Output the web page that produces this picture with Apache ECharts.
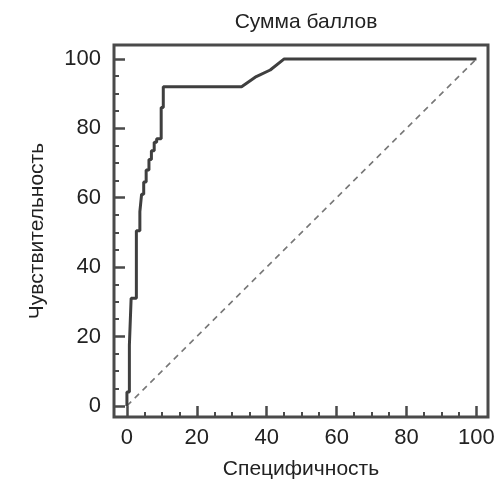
<!DOCTYPE html>
<html>
<head>
<meta charset="utf-8">
<script src="https://cdn.jsdelivr.net/npm/echarts@6/dist/echarts.min.js"></script>
<style>html,body{margin:0;padding:0;background:#fff}#c{width:498px;height:484px}</style>
</head>
<body>
<div id="c"></div>
<script>
var titleText = 'Сумма баллов';
var xName = 'Специфичность';
var yName = 'Чувствительность';
var majorTicks = [0, 20, 40, 60, 80, 100];
var minorTicks = [5, 10, 15, 25, 30, 35, 45, 50, 55, 65, 70, 75, 85, 90, 95];
// ROC curve points
var spec = [0, 0, 0.7, 0.7, 1.2, 1.2, 2.7, 2.7, 3.7, 3.7, 4.2, 4.2, 4.8, 4.8, 5.5, 5.5, 6.3, 6.3, 7.0, 7.0, 7.8, 7.8, 8.5, 8.5, 9.8, 9.8, 10.4, 10.4, 32.8, 37, 41, 45, 100];
var sens = [0, 4, 4, 17.5, 17.5, 31, 31, 50.5, 50.5, 56, 56, 61, 61, 64.5, 64.5, 68, 68, 71, 71, 73.5, 73.5, 76, 76, 77, 77, 86, 86, 92, 92, 94.9, 96.8, 100, 100];
var diagX = [0, 100];
var diagY = [0, 100];

var curve = spec.map(function (v, i) { return [v, sens[i]]; });
var diag = diagX.map(function (v, i) { return [v, diagY[i]]; });

var font = 'Liberation Sans';
var txt = '#222';
var frame = '#4a4a4a';
var xMin = -3.7, xMax = 103.3, yMin = -3.2, yMax = 104;

var chart = echarts.init(document.getElementById('c'), null, {renderer: 'canvas'});
chart.setOption({
  animation: false,
  backgroundColor: '#fff',
  title: {
    text: titleText, left: 301, top: 7, textAlign: 'center',
    textStyle: {fontFamily: font, fontSize: 21, fontWeight: 'normal', color: txt}
  },
  grid: {left: 114, right: 10, top: 45, bottom: 67, outerBoundsMode: 'none', containLabel: false,
    show: true, borderColor: frame, borderWidth: 3, backgroundColor: 'transparent'},
  xAxis: [{
    type: 'value', min: xMin, max: xMax, position: 'bottom',
    name: xName, nameLocation: 'middle', nameGap: 42,
    nameTextStyle: {fontFamily: font, fontSize: 21, color: txt},
    axisLine: {show: false, onZero: false},
    splitLine: {show: false},
    axisTick: {show: true, inside: true, length: 11, customValues: majorTicks, lineStyle: {color: frame, width: 2.5}},
    axisLabel: {customValues: majorTicks, margin: 10, fontFamily: font, fontSize: 22, color: txt}
  }, {
    type: 'value', min: xMin, max: xMax, position: 'bottom',
    axisLine: {show: false, onZero: false}, splitLine: {show: false},
    axisTick: {show: true, inside: true, length: 5, customValues: minorTicks, lineStyle: {color: frame, width: 2}},
    axisLabel: {show: false}
  }],
  yAxis: [{
    type: 'value', min: yMin, max: yMax, position: 'left',
    name: yName, nameLocation: 'middle', nameGap: 66, nameRotate: 90,
    nameTextStyle: {fontFamily: font, fontSize: 21, color: txt},
    axisLine: {show: false, onZero: false},
    splitLine: {show: false},
    axisTick: {show: true, inside: true, length: 11, customValues: majorTicks, lineStyle: {color: frame, width: 2.5}},
    axisLabel: {customValues: majorTicks, margin: 13, fontFamily: font, fontSize: 22, color: txt}
  }, {
    type: 'value', min: yMin, max: yMax, position: 'left',
    axisLine: {show: false, onZero: false}, splitLine: {show: false},
    axisTick: {show: true, inside: true, length: 5, customValues: minorTicks, lineStyle: {color: frame, width: 2}},
    axisLabel: {show: false}
  }],
  series: [{
    type: 'line', data: diag, xAxisIndex: 0, yAxisIndex: 0,
    showSymbol: false, symbol: 'none',
    lineStyle: {color: '#777', width: 1.6, type: [6, 5]}
  }, {
    type: 'line', data: curve, xAxisIndex: 0, yAxisIndex: 0,
    showSymbol: false, symbol: 'none',
    lineStyle: {color: '#3f3f3f', width: 3}
  }]
});
</script>
</body>
</html>
